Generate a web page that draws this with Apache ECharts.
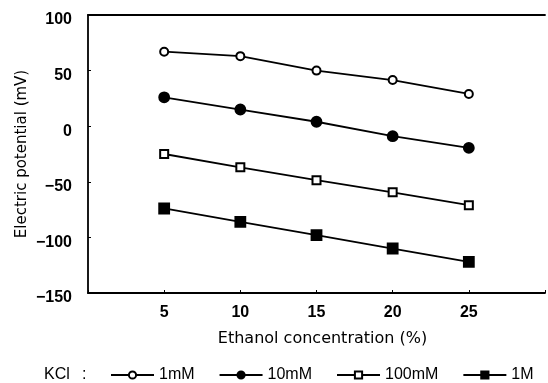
<!DOCTYPE html>
<html>
<head>
<meta charset="utf-8">
<script src="https://cdn.jsdelivr.net/npm/echarts@6/dist/echarts.min.js"></script>
<style>
html,body{margin:0;padding:0;background:#fff;}
#chart{width:548px;height:383px;}
</style>
</head>
<body>
<div id="chart"></div>
<script>
var concentrations = [5, 10, 15, 20, 25];
var kcl1mM   = [67, 63, 50, 41.5, 29];
var kcl10mM  = [26, 15, 4, -9, -19.5];
var kcl100mM = [-25, -37, -48.5, -59.5, -71];
var kcl1M    = [-74, -86, -98, -110, -122];
var seriesNames = ['1mM', '10mM', '100mM', '1M'];
var yTicks = [-150, -100, -50, 0, 50, 100];

var chart = echarts.init(document.getElementById('chart'));
var font = 'Liberation Sans, Arial, sans-serif';
var titleFont = 'DejaVu Sans, sans-serif';

function pairs(vals){
    var out = [];
    for(var i=0;i<concentrations.length;i++){
        out.push([concentrations[i], vals[i]]);
    }
    return out;
}

function mk(name, vals, symbol, size){
    return {
        name: name,
        type: 'line',
        data: pairs(vals),
        symbol: symbol,
        symbolSize: size,
        lineStyle: {color:'#000', width:1.8},
        itemStyle: {color:'#000', borderColor:'#000', borderWidth:1.8},
        emphasis: {disabled:true},
        z: 3
    };
}

chart.setOption({
    animation: false,
    grid: {left: 88, top: 15, width: 468, height: 278},
    graphic: [{
        type: 'text', left: 44, top: 367,
        style: {text: 'KCl', font: '16px ' + font, fill: '#000'}
    },{
        type: 'text', left: 82, top: 367,
        style: {text: ':', font: '16px ' + font, fill: '#000'}
    }],
    legend: {
        data: seriesNames,
        left: 105,
        top: 362,
        itemWidth: 43,
        itemHeight: 9,
        itemGap: 24,
        textStyle: {fontFamily: font, fontSize: 16, color:'#000'}
    },
    xAxis: [{
        type: 'value',
        min: 0, max: 30, interval: 5,
        name: 'Ethanol concentration (%)',
        nameLocation: 'middle',
        nameGap: 38,
        nameMoveOverlap: false,
        nameTextStyle: {fontFamily: titleFont, fontSize: 16, color:'#000', padding:[0,0,0,12]},
        axisLine: {onZero:false, lineStyle:{color:'#000', width:1.8}},
        axisTick: {inside:true, length:3, lineStyle:{color:'#000'}},
        axisLabel: {
            fontFamily: font, fontSize: 16, fontWeight:'bold', color:'#000', margin: 12,
            formatter: function(v){ return (v>=5 && v<=25) ? v : ''; }
        },
        splitLine: {show:false}
    },{
        type: 'value', position: 'top',
        min: 0, max: 30,
        axisLine: {onZero:false, lineStyle:{color:'#000', width:1.8}},
        axisTick: {show:false}, axisLabel: {show:false}, splitLine:{show:false}
    }],
    yAxis: {
        type: 'value',
        min: yTicks[0], max: yTicks[yTicks.length-1], interval: 50,
        name: 'Electric potential (mV)',
        nameLocation: 'middle',
        nameGap: 58,
        nameMoveOverlap: false,
        nameTextStyle: {fontFamily: titleFont, fontSize: 15, color:'#000'},
        axisLine: {show:true, onZero:false, lineStyle:{color:'#000', width:1.8}},
        axisTick: {show:true, inside:true, length:3, lineStyle:{color:'#000'}},
        axisLabel: {
            fontFamily: font, fontSize: 16, fontWeight:'bold', color:'#000', margin: 16,
            verticalAlign: 'top', lineHeight: 10,
            formatter: function(v){ return String(v).replace('-', '\u2212'); }
        },
        splitLine: {show:false}
    },
    series: [
        mk(seriesNames[0], kcl1mM, 'emptyCircle', 8),
        mk(seriesNames[1], kcl10mM, 'circle', 10),
        mk(seriesNames[2], kcl100mM, 'emptyRect', 8),
        mk(seriesNames[3], kcl1M, 'rect', 10)
    ]
});
</script>
</body>
</html>
